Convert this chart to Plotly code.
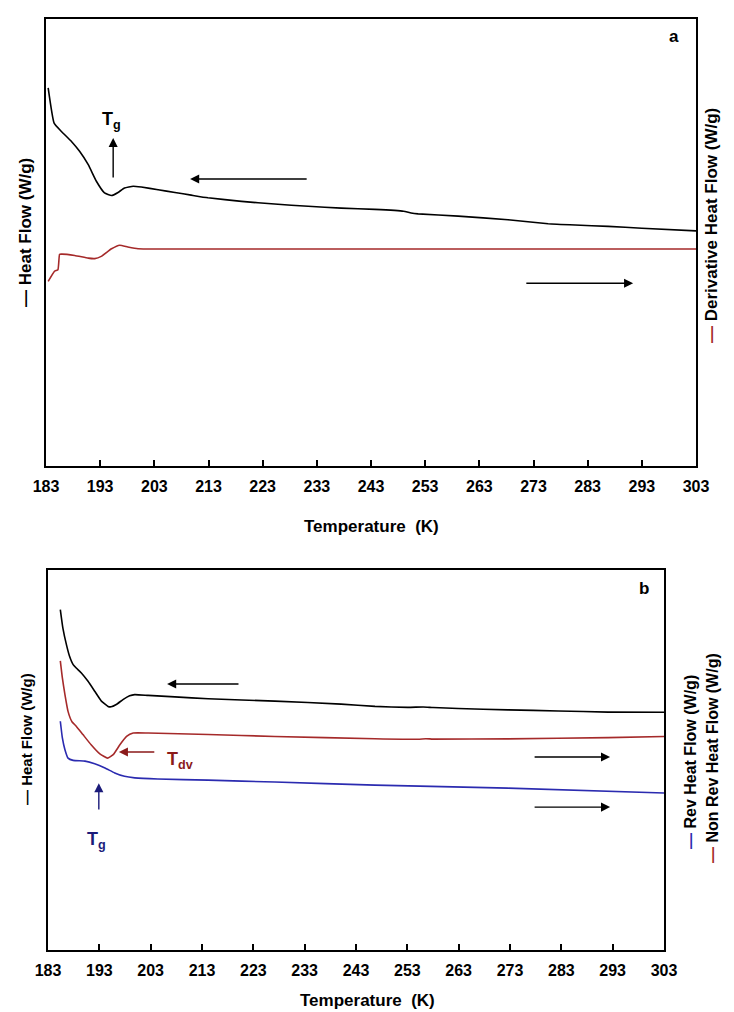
import plotly.graph_objects as go

# ---------------- data ----------------
tick_vals = [183, 193, 203, 213, 223, 233, 243, 253, 263, 273, 283, 293, 303]
tick_text = [str(v) for v in tick_vals]

# Panel a: total heat flow (left axis) and derivative heat flow (right axis), arbitrary units
a_hf_T = [183.4, 184.5, 185.8, 187.7, 189.2, 190.8, 192.3, 193.8, 195.1, 196.3, 197.5, 199.1,
          200.6, 203.7, 206.8, 209.8, 212.9, 219.1, 225.2, 231.4, 237.5, 243.7, 249.0, 250.4,
          251.7, 259.1, 268.3, 275.7, 280.7, 286.8, 293.0, 303.0]
a_hf_v = [84.6, 76.7, 74.9, 72.6, 70.4, 67.4, 63.7, 61.1, 60.5, 61.2, 62.2, 62.6,
          62.4, 61.8, 61.2, 60.6, 60.0, 59.2, 58.6, 58.1, 57.7, 57.4, 57.0, 56.6,
          56.4, 55.9, 55.1, 54.2, 53.9, 53.6, 53.2, 52.6]

a_der_T = [183.4, 184.6, 185.2, 185.5, 185.8, 188.3, 190.8, 192.0, 193.2, 195.1, 196.6, 198.1,
           200.0, 203.7, 243.7, 303.0]
a_der_v = [41.3, 43.6, 43.9, 47.3, 47.4, 47.1, 46.5, 46.4, 46.9, 48.6, 49.4, 49.0,
           48.6, 48.55, 48.55, 48.55]

# Panel b: total, non-reversing and reversing heat flow, arbitrary units
b_hf_T = [185.4, 185.9, 186.6, 187.2, 187.9, 188.5, 189.5, 190.8, 192.1, 193.4, 194.7, 195.3,
          196.3, 197.6, 198.9, 199.9, 202.5, 207.7, 214.2, 227.2, 240.1, 246.7, 253.1, 256.1,
          258.0, 262.9, 272.6, 282.4, 292.1, 303.0]
b_hf_v = [89.6, 84.7, 80.3, 77.3, 75.1, 74.2, 72.9, 70.7, 68.1, 65.5, 64.1, 64.0,
          64.6, 65.9, 66.9, 67.2, 67.0, 66.6, 66.1, 65.5, 64.7, 64.1, 63.85, 63.95,
          63.8, 63.55, 63.2, 62.9, 62.6, 62.55]

b_nrev_T = [185.4, 185.8, 186.3, 186.9, 187.7, 188.5, 189.8, 191.4, 193.1, 194.6, 195.7, 197.0,
            198.3, 199.6, 202.5, 214.2, 227.2, 246.7, 255.1, 256.6, 258.0, 272.6, 292.1, 303.0]
b_nrev_v = [76.1, 71.6, 67.2, 62.8, 60.0, 58.9, 56.7, 54.0, 51.6, 50.5, 51.4, 54.0,
            56.2, 57.1, 57.1, 56.7, 56.2, 55.6, 55.45, 55.6, 55.5, 55.55, 55.9, 56.2]

b_rev_T = [185.4, 185.8, 186.3, 186.9, 187.9, 190.2, 192.1, 194.1, 196.0, 197.9, 199.9, 204.4,
           214.2, 227.2, 246.7, 272.6, 303.0]
b_rev_v = [60.2, 55.8, 52.7, 50.5, 49.9, 49.7, 49.0, 47.9, 46.6, 45.7, 45.3, 45.0,
           44.7, 44.2, 43.4, 42.6, 41.3]

BLACK = "#000000"
RED = "#a52a2a"
BLUE = "#2b2bb0"
NAVY = "#1b1b7a"
DRED = "#8b1a1a"
FONT = "Liberation Sans, Arial, sans-serif"

W, H = 734, 1012
def px(x):
    return x / W
def py(y):
    return 1 - y / H

fig = go.Figure()
lw = 1.6
def line(color, sm):
    return dict(color=color, width=lw, shape="spline", smoothing=sm)

fig.add_trace(go.Scatter(x=a_hf_T, y=a_hf_v, mode="lines", line=line(BLACK, 0.4),
                         xaxis="x", yaxis="y", showlegend=False))
fig.add_trace(go.Scatter(x=a_der_T, y=a_der_v, mode="lines", line=line(RED, 0.4),
                         xaxis="x", yaxis="y2", showlegend=False))
fig.add_trace(go.Scatter(x=b_hf_T, y=b_hf_v, mode="lines", line=line(BLACK, 0.4),
                         xaxis="x2", yaxis="y3", showlegend=False))
fig.add_trace(go.Scatter(x=b_nrev_T, y=b_nrev_v, mode="lines", line=line(RED, 0.4),
                         xaxis="x2", yaxis="y3", showlegend=False))
fig.add_trace(go.Scatter(x=b_rev_T, y=b_rev_v, mode="lines", line=line(BLUE, 0.4),
                         xaxis="x2", yaxis="y3", showlegend=False))

xcommon = dict(tickmode="array", tickvals=tick_vals, ticktext=tick_text, range=[183, 303],
               ticks="inside", ticklen=6, tickwidth=1.5, tickcolor=BLACK,
               showline=True, linecolor=BLACK, linewidth=2, mirror=True,
               showgrid=False, zeroline=False, automargin=False,
               tickfont=dict(family=FONT, size=16, color=BLACK, weight="bold"),
               ticklabelstandoff=5)
ycommon = dict(showticklabels=False, ticks="", showgrid=False, zeroline=False, automargin=False,
               showline=True, linecolor=BLACK, linewidth=2, range=[0, 100])

fig.update_layout(
    template="none",
    width=W, height=H, autosize=False,
    margin=dict(l=0, r=0, t=0, b=0, pad=0),
    paper_bgcolor="white", plot_bgcolor="white",
    xaxis=dict(domain=[px(38), px(688)], anchor="y", **xcommon),
    yaxis=dict(domain=[py(458), py(11)], anchor="x", mirror=True, **ycommon),
    yaxis2=dict(overlaying="y", side="right", anchor="x", **ycommon),
    xaxis2=dict(domain=[px(40), px(656)], anchor="y3", **xcommon),
    yaxis3=dict(domain=[py(942), py(562)], anchor="x2", mirror=True, **ycommon),
)

ann = []
def text_ann(x, y, text, size=17, color=BLACK, angle=0, bold=True):
    ann.append(dict(x=px(x), y=py(y), xref="paper", yref="paper", text=text, showarrow=False,
                    textangle=angle, xanchor="center", yanchor="middle",
                    font=dict(family=FONT, size=size, color=color, weight="bold" if bold else "normal")))

def arrow(xr, yr, x_head, y_head, x_tail, y_tail, color=BLACK):
    ann.append(dict(x=x_head, y=y_head, ax=x_tail, ay=y_tail, xref=xr, yref=yr, axref=xr, ayref=yr,
                    showarrow=True, arrowhead=2, arrowsize=1.3, arrowwidth=1.4, arrowcolor=color,
                    standoff=0, text=""))

# panel a
text_ann(666, 29, "a", size=17)
text_ann(363, 518, "Temperature  (K)", size=17)
text_ann(18, 225, "— Heat Flow (W/g)", size=17, angle=-90)
text_ann(704, 218, f"<span style='color:{RED}'>—</span> Derivative Heat Flow (W/g)", size=17, angle=-90)
ann.append(dict(x=195.0, y=77.4, xref="x", yref="y", text="T<sub>g</sub>", showarrow=False,
                font=dict(family=FONT, size=18, color=BLACK, weight="bold")))
arrow("x", "y", 195.4, 73.4, 195.4, 64.2)
arrow("x", "y", 209.6, 64.2, 231.4, 64.2)
arrow("x", "y", 291.4, 40.9, 271.4, 40.9)

# panel b
text_ann(636, 580, "b", size=17)
text_ann(359, 992, "Temperature  (K)", size=17)
text_ann(18, 731, "— Heat Flow (W/g)", size=15, angle=-90)
text_ann(682, 754, f"<span style='color:{BLUE}'>—</span> Rev Heat Flow (W/g)", size=16, angle=-90)
text_ann(704, 750, f"<span style='color:{RED}'>—</span> Non Rev Heat Flow (W/g)", size=16, angle=-90)
arrow("x2", "y3", 206.2, 70.0, 220.4, 70.0)
arrow("x2", "y3", 196.8, 52.1, 204.0, 52.1, color=DRED)
ann.append(dict(x=208.7, y=50.0, xref="x2", yref="y3", text="T<sub>dv</sub>", showarrow=False,
                font=dict(family=FONT, size=18, color=DRED, weight="bold")))
arrow("x2", "y3", 192.9, 43.9, 192.9, 36.6, color=NAVY)
ann.append(dict(x=192.5, y=28.7, xref="x2", yref="y3", text="T<sub>g</sub>", showarrow=False,
                font=dict(family=FONT, size=18, color=NAVY, weight="bold")))
arrow("x2", "y3", 292.5, 50.8, 277.5, 50.8)
arrow("x2", "y3", 292.5, 37.6, 277.5, 37.6)

fig.update_layout(annotations=ann)
fig.write_html("out.html")
